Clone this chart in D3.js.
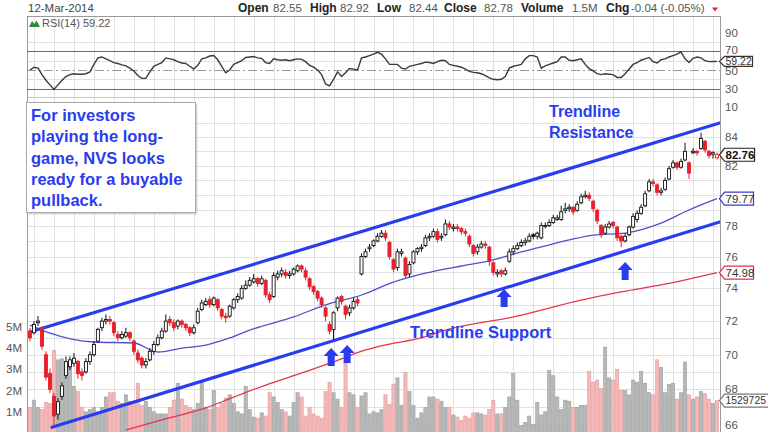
<!DOCTYPE html>
<html><head><meta charset="utf-8">
<script src="https://cdn.jsdelivr.net/npm/d3@7"></script>
<style>body{margin:0;background:#fff}svg{display:block}text{font-family:"Liberation Sans",Arial,sans-serif}</style>
</head><body><svg id="c" width="768" height="432"></svg>
<script>
// ---- data ----
const closes = [71.0,71.8,72.0,70.5,68.7,68.0,66.5,67.3,68.2,69.6,
69.7,69.8,68.9,68.8,69.6,70.0,70.6,71.5,72.0,72.1,
72.0,71.3,71.0,71.2,71.3,71.0,70.2,69.7,69.4,69.6,
70.2,70.6,71.0,71.4,72.0,71.9,71.6,72.0,71.8,71.6,
71.3,71.6,72.6,73.1,73.2,73.0,73.4,72.8,72.3,72.2,
72.9,73.3,73.5,74.0,74.2,74.5,74.6,74.3,74.6,73.6,
73.3,74.8,74.9,75.1,74.8,74.9,75.2,75.4,75.2,74.7,
74.1,73.8,73.4,73.0,72.3,71.4,72.5,73.4,73.2,72.4,
72.8,73.2,73.1,76.0,76.3,76.6,77.0,77.3,77.5,77.2,
76.0,75.2,76.3,76.3,74.8,75.5,76.3,76.5,76.6,77.2,
77.3,77.6,77.1,77.3,78.1,77.9,77.9,77.8,77.6,77.5,
76.8,76.2,76.6,76.8,76.7,75.7,75.0,75.0,74.9,75.1,
76.3,76.5,76.7,76.9,77.0,77.3,77.3,77.5,78.0,78.0,
78.2,78.5,78.5,78.9,79.1,79.2,78.9,79.4,79.9,80.0,
79.8,79.1,78.3,77.4,77.9,78.1,78.0,77.2,77.0,77.3,
77.9,78.6,78.8,79.2,80.1,80.9,80.8,80.2,80.3,81.0,
81.8,82.2,81.9,82.3,83.0,81.5,83.0,82.9,83.9,83.1,
82.7,82.9,82.76];
const opens = [71.4,71.3,71.9,71.6,70.0,68.9,67.6,66.6,67.6,68.8,
69.3,69.5,69.6,69.0,69.0,69.6,70.0,70.8,71.6,72.0,
72.1,71.9,71.2,71.0,71.1,71.3,70.8,70.1,69.8,69.4,
69.7,70.2,70.6,71.0,71.4,72.1,71.9,71.7,72.0,71.8,
71.6,71.3,71.9,72.7,73.0,73.3,73.0,73.3,72.7,72.3,
72.3,72.8,73.3,73.4,74.0,74.2,74.4,74.6,74.3,74.5,
73.6,73.5,74.7,74.9,75.0,74.8,74.9,75.1,75.4,75.1,
74.6,74.1,73.8,73.4,72.8,71.8,71.5,72.8,73.5,72.9,
72.5,72.8,73.3,74.9,76.0,76.5,76.7,77.0,77.3,77.5,
76.9,75.8,75.3,76.2,75.9,74.9,75.6,76.3,76.5,76.7,
77.2,77.3,77.6,77.2,77.4,78.1,77.8,77.9,77.8,77.6,
77.3,76.7,76.3,76.6,76.8,76.6,75.6,74.9,75.1,74.9,
75.7,76.3,76.5,76.7,76.9,77.0,77.4,77.3,77.2,78.0,
78.0,78.2,78.4,78.4,79.0,79.1,79.2,79.0,79.5,79.9,
80.0,79.6,79.0,78.0,77.5,77.9,78.2,77.9,77.3,77.0,
77.4,77.9,78.4,78.8,79.3,80.3,80.9,80.7,80.2,80.4,
81.1,81.9,82.2,81.9,82.4,82.2,82.9,83.0,83.2,83.7,
83.0,82.8,82.55];
const highs = [71.6,72.0,72.3,71.7,70.2,69.2,67.8,67.5,68.4,69.9,
69.9,70.1,69.7,69.2,69.8,70.2,70.8,71.6,72.2,72.4,
72.3,72.0,71.4,71.4,71.6,71.4,70.9,70.3,69.9,69.8,
70.4,70.8,71.2,71.6,72.4,72.3,72.1,72.1,72.1,71.9,
71.7,71.8,72.8,73.3,73.4,73.5,73.5,73.4,72.8,72.5,
73.0,73.4,73.7,74.2,74.5,74.7,74.9,74.7,74.8,74.6,
73.8,75.0,75.1,75.3,75.2,75.1,75.3,75.5,75.5,75.3,
74.7,74.2,73.9,73.5,72.9,72.0,72.6,73.5,73.6,73.0,
73.0,73.4,73.5,76.2,76.5,76.8,77.1,77.5,77.7,77.7,
77.0,75.9,76.5,76.5,76.0,75.7,76.4,76.6,76.8,77.4,
77.5,77.8,77.8,77.5,78.4,78.3,78.1,78.1,77.9,77.8,
77.4,76.8,76.8,77.0,77.0,76.7,75.7,75.2,75.2,75.3,
76.5,76.7,76.9,77.1,77.2,77.5,77.5,77.6,78.2,78.2,
78.4,78.7,78.7,79.3,79.5,79.4,79.3,79.6,80.1,80.3,
80.2,79.7,79.1,78.1,78.1,78.3,78.3,78.0,77.4,77.5,
78.0,78.8,79.0,79.4,80.3,81.1,81.1,80.8,80.5,81.2,
82.0,82.4,82.3,82.5,83.6,82.3,83.2,83.1,84.3,83.8,
83.1,83.0,82.92];
const lows = [70.8,71.2,71.7,70.3,68.5,67.8,66.0,66.3,67.4,68.6,
69.1,69.3,68.6,68.5,68.9,69.4,69.9,70.7,71.4,71.8,
71.8,71.1,70.8,70.9,71.0,70.8,70.0,69.5,69.2,69.2,
69.6,70.0,70.5,70.9,71.3,71.7,71.4,71.5,71.6,71.4,
71.1,71.2,71.8,72.6,72.9,72.8,72.9,72.6,72.1,71.9,
72.2,72.7,73.1,73.3,73.9,74.1,74.3,74.1,74.2,73.4,
73.1,73.4,74.5,74.7,74.6,74.6,74.8,75.0,75.0,74.5,
73.9,73.6,73.2,72.8,72.0,71.2,70.9,72.6,73.0,72.1,
72.3,72.7,72.9,74.8,75.9,76.3,76.6,76.9,77.2,77.0,
75.8,75.0,75.1,76.0,74.6,74.7,75.5,76.1,76.3,76.6,
77.0,77.2,76.9,77.0,77.3,77.7,77.6,77.6,77.4,77.3,
76.6,76.0,76.1,76.5,76.5,75.4,74.8,74.7,74.7,74.8,
75.6,76.1,76.4,76.6,76.7,76.9,77.1,77.1,77.1,77.8,
77.9,78.1,78.3,78.3,78.8,78.9,78.7,78.9,79.4,79.8,
79.6,78.9,78.1,77.2,77.4,77.8,77.8,77.0,76.6,76.9,
77.3,77.8,78.2,78.7,79.2,80.2,80.6,80.0,80.0,80.3,
81.0,81.8,81.7,81.8,82.3,81.1,82.8,82.7,83.1,82.9,
82.5,82.5,82.44];
const volumes = [1.2,1.55,1.2,1.1,1.45,1.4,3.9,3.45,3.5,2.8,
3.4,2.2,1.95,1.2,1.0,1.1,1.2,1.0,1.2,1.7,
1.9,1.9,1.5,1.4,1.8,1.5,1.5,2.35,1.3,1.5,
1.2,1.0,0.9,0.9,0.9,1.2,1.55,2.35,1.6,1.3,
1.2,1.1,1.4,2.4,1.2,1.1,2.0,1.2,1.4,1.65,
1.8,1.4,1.0,0.9,2.2,1.1,0.75,0.7,0.95,0.8,
1.9,1.7,1.45,1.1,1.0,0.8,1.45,1.9,1.7,0.8,
1.2,0.9,0.8,0.7,1.95,2.4,1.9,1.6,1.2,3.35,
1.9,1.8,1.2,1.75,1.9,0.9,1.0,0.95,1.1,1.8,
1.35,2.3,2.6,1.3,2.85,1.95,1.3,0.7,0.95,1.2,
1.7,1.7,1.6,1.5,1.2,1.2,0.85,0.75,0.6,0.8,
0.7,0.95,0.95,0.9,0.85,1.1,1.55,0.9,0.9,1.2,
1.7,2.8,1.55,0.35,0.5,0.8,0.4,1.45,0.85,1.0,
2.95,2.7,1.7,1.1,1.55,1.5,1.2,1.2,1.3,1.3,
2.9,2.4,2.5,2.1,4.05,2.6,2.5,3.0,2.0,2.0,
1.8,2.5,2.4,2.9,2.35,1.9,1.8,3.45,3.1,1.9,
2.3,2.35,1.6,1.9,3.35,1.8,1.6,1.7,1.95,1.85,
1.6,1.4,1.529725];
const rsi = [50,53,52,45,39,34,29,34,39,43,
45,46,45.5,45.5,46,48,56,63,64,62,
60,58,57,55.5,54.5,52,49,44,41,41,
48,54,56,58,63,62,61,59,57.5,57,
54,51,55,62,63,65,65.5,61,54,47,
50,56,58,60,63.5,64,64.5,63,62.5,58,
57,62,61,60.5,61,60,61,62,61.5,59,
55,53,50,45,35,33,40,48,43,47,
51.5,51,50,63,64,65.5,67,69,67,62,
56,56,56,52,51,54,55,56,57,58.5,
58,57,59,60.5,60,56,55,54,53,51,
48.5,47.5,47,46,44,41.5,40,39.5,40,43,
52,54,55,56,62,65.5,65.5,64,52,54.5,
56,57.5,59,64,64,60.5,60,61,62,56,
51.5,49,46,45,46,45.5,45,42,42,46,
51,56,58,60.5,62,63.5,59,57.5,61,62,
64,65.5,67,69.5,62,58,62.5,64,63,60,
59,59.2,59.22];
const ma50Bars = [0,5,16,26,32,38,44,50,55,66,74,83,91,99,108,115,123,129,135,141,149,158,165,172];
const ma50Vals = [71.76,71.28,70.75,70.69,70.16,70.39,70.57,70.99,71.46,72.25,72.98,73.59,74.39,74.95,75.40,75.72,76.29,76.68,77.06,77.38,77.51,78.16,79.02,79.77];
const ma200Bars = [24,33,44,51,59,68,76,84,90,98,104,121,138,148,158,172];
const ma200Vals = [65.72,66.28,66.95,67.56,68.24,68.94,69.58,70.28,70.63,70.99,71.46,72.25,73.28,73.78,74.21,74.98];
const resistanceLine = {bars:[0,172.7], prices:[71.34,84.99]};
const supportLine = {bars:[5.5,172.7], prices:[65.88,78.23]};
const arrowBars = [75.4,79.4,118.7,149];
const arrowTips = [70.39,70.57,73.96,75.65];
const priceTicks = [66,68,70,72,74,76,78,82,84];   // 80 is hidden behind the 79.77 tag
const priceGrid = [65,66,67,68,69,70,71,72,73,74,75,76,77,78,79,80,81,82,83,84,85];
const rsiTicks = [10,30,50,70,90];
const volTicks = [1,2,3,4,5];
const volTickLabels = ["1M","2M","3M","4M","5M"];
const headerDate = "12-Mar-2014";
const headerItems = [["Open","82.55"],["High","82.92"],["Low","82.44"],["Close","82.78"],["Volume","1.5M"],["Chg","-0.04 (-0.05%)"]];
const noteLines = ["For investors","playing the long-","game, NVS looks","ready for a buyable","pullback."];
const lastClose = 82.76, lastMA50 = 79.77, lastMA200 = 74.98, lastVolume = 1529725, lastRsi = 59.22;

// ---- layout ----
const svg = d3.select("#c");
const L = 27, R = 720, mainTop = 98, mainBot = 432, rsiTop = 16, rsiBot = 97;
const N = closes.length;
const x = d3.scaleLinear().domain([0, N-1]).range([30, 717]);
const y = d3.scaleLog().domain([66, 84]).range([425, 137]);
const yv = d3.scaleLinear().domain([0, 5]).range([433, 327]);
const yr = d3.scaleLinear().domain([0, 100]).range([116.5, 23.5]);

const BLUE = "#2a3cf0", RED = "#e8202c";
const upDay = i => i === 0 ? closes[i] >= opens[i] : closes[i] >= closes[i-1];

svg.append("defs").html(`<clipPath id="mc"><rect x="${L}" y="${mainTop}" width="${R-L}" height="${mainBot-mainTop}"/></clipPath>
<clipPath id="rc"><rect x="${L}" y="${rsiTop}" width="${R-L}" height="${rsiBot-rsiTop}"/></clipPath>`);

// grids
const grid = svg.append("g").attr("stroke", "#e0e0e0").attr("stroke-width", 1);
const vBars = d3.range(1, N, 5);
vBars.forEach(b => {
  const xx = Math.round(x(b)) + 0.5;
  grid.append("line").attr("x1", xx).attr("x2", xx).attr("y1", rsiTop).attr("y2", rsiBot);
  grid.append("line").attr("x1", xx).attr("x2", xx).attr("y1", mainTop).attr("y2", mainBot);
});
priceGrid.forEach(p => {
  const yy = Math.round(y(p)) + 0.5;
  if (yy > mainTop && yy < mainBot) grid.append("line").attr("x1", L).attr("x2", R).attr("y1", yy).attr("y2", yy);
});
[20,40,60,80].forEach(r => {
  const yy = Math.round(yr(r)) + 0.5;
  if (yy > rsiTop && yy < rsiBot) grid.append("line").attr("x1", L).attr("x2", R).attr("y1", yy).attr("y2", yy);
});

// panel frames
const frame = svg.append("g").attr("fill", "none").attr("stroke", "#9a9a9a");
frame.append("line").attr("x1", L).attr("x2", R).attr("y1", rsiTop + 0.5).attr("y2", rsiTop + 0.5);
frame.append("line").attr("x1", L).attr("x2", R).attr("y1", rsiBot + 0.5).attr("y2", rsiBot + 0.5).attr("stroke", "#c8c8c8");
frame.append("line").attr("x1", L + 0.5).attr("x2", L + 0.5).attr("y1", rsiTop).attr("y2", mainBot);
frame.append("line").attr("x1", R + 0.5).attr("x2", R + 0.5).attr("y1", rsiTop).attr("y2", mainBot);

// RSI panel
const rg = svg.append("g").attr("clip-path", "url(#rc)");
[70,30].forEach(r => rg.append("line").attr("x1", L).attr("x2", R)
  .attr("y1", Math.round(yr(r)) + 0.5).attr("y2", Math.round(yr(r)) + 0.5).attr("stroke", "#6a6a6a"));
rg.append("line").attr("x1", L).attr("x2", R).attr("y1", Math.round(yr(50)) + 0.5).attr("y2", Math.round(yr(50)) + 0.5)
  .attr("stroke", "#9a9a9a").attr("stroke-width", 1.2).attr("stroke-dasharray", "9,3,2,3");
rg.append("path").datum(rsi).attr("fill", "none").attr("stroke", "#3a3a3a").attr("stroke-width", 1.4)
  .attr("d", d3.line().x((d, i) => x(i)).y(d => yr(d)));

// main panel content
const mg = svg.append("g").attr("clip-path", "url(#mc)");
mg.append("g").selectAll("rect").data(volumes).join("rect")
  .attr("x", (d, i) => x(i) - 1.6).attr("width", 3.2)
  .attr("y", d => yv(d)).attr("height", d => yv(0) - yv(d))
  .attr("fill", (d, i) => upDay(i) ? "#b8b8b8" : "#f3b9b9")
  .attr("stroke", (d, i) => upDay(i) ? "#9c9c9c" : "#e49a9a").attr("stroke-width", 0.6);
const maLine = (bars) => d3.line().curve(d3.curveMonotoneX).x((d, i) => x(bars[i])).y(d => y(d));
mg.append("path").datum(ma200Vals).attr("fill", "none").attr("stroke", "#e2364e").attr("stroke-width", 1.3).attr("d", maLine(ma200Bars));
mg.append("path").datum(ma50Vals).attr("fill", "none").attr("stroke", "#5050c8").attr("stroke-width", 1.3).attr("d", maLine(ma50Bars));
[resistanceLine, supportLine].forEach(t => {
  mg.append("line").attr("x1", x(t.bars[0])).attr("y1", y(t.prices[0]))
    .attr("x2", x(t.bars[1])).attr("y2", y(t.prices[1]))
    .attr("stroke", BLUE).attr("stroke-width", 3.2).attr("stroke-linecap", "round");
});
const cg = mg.append("g");
closes.forEach((c, i) => {
  const col = upDay(i) ? "#111" : RED;
  const o = opens[i], xx = x(i);
  cg.append("line").attr("x1", xx).attr("x2", xx).attr("y1", y(highs[i])).attr("y2", y(lows[i]))
    .attr("stroke", col).attr("stroke-width", 1);
  const top = y(Math.max(o, c)), bot = y(Math.min(o, c));
  cg.append("rect").attr("x", xx - 1.5).attr("width", 3).attr("y", top).attr("height", Math.max(1, bot - top))
    .attr("fill", c < o ? col : "#fff").attr("stroke", col).attr("stroke-width", 0.9);
});
arrowBars.forEach((b, i) => {
  const ax = x(b), ay = y(arrowTips[i]);
  mg.append("path").attr("fill", BLUE)
    .attr("d", `M${ax},${ay} L${ax+7.5},${ay+8} L${ax+3.5},${ay+8} L${ax+3.5},${ay+18} L${ax-3.5},${ay+18} L${ax-3.5},${ay+8} L${ax-7.5},${ay+8} Z`);
});

// text annotations
const tr = svg.append("g").attr("fill", BLUE).attr("font-weight", "bold");
tr.append("text").attr("x", 549).attr("y", 117).attr("font-size", 16).text("Trendline");
tr.append("text").attr("x", 549).attr("y", 138).attr("font-size", 16).text("Resistance");
tr.append("text").attr("x", 410).attr("y", 338).attr("font-size", 16.5).text("Trendline Support");

// note box
svg.append("rect").attr("x", 28.5).attr("y", 104.5).attr("width", 169).attr("height", 110).attr("fill", "#bdbdbd").attr("opacity", 0.6);
svg.append("rect").attr("x", 26.5).attr("y", 102.5).attr("width", 169).attr("height", 110).attr("fill", "#fff").attr("stroke", "#a8a8a8");
svg.append("g").selectAll("text").data(noteLines).join("text")
  .attr("x", 31).attr("y", (d, i) => 121 + i * 21.3).attr("fill", BLUE).attr("font-weight", "bold").attr("font-size", 16.5).text(d => d);

// axes labels
const ax = svg.append("g").attr("font-size", 11.5).attr("fill", "#555");
priceTicks.forEach(p => ax.append("text").attr("x", 725).attr("y", y(p) + 4).text(p));
rsiTicks.forEach(r => ax.append("text").attr("x", 725).attr("y", yr(r) + (r === 50 ? 5 : r === 70 ? 3 : 4)).text(r));
volTicks.forEach((v, i) => ax.append("text").attr("x", 22).attr("y", yv(v) + 4).attr("text-anchor", "end").text(volTickLabels[i]));

// value tags
function tag(cy, txt, stroke, color, bold, w, fs, hh) {
  const g = svg.append("g");
  g.append("path").attr("d", `M719.5,${cy} L724.5,${cy-hh} L${724.5+w},${cy-hh} L${724.5+w},${cy+hh} L724.5,${cy+hh} Z`)
    .attr("fill", "#fff").attr("stroke", stroke).attr("stroke-width", 1.2);
  g.append("text").attr("x", 725.5).attr("y", cy + fs * 0.36).attr("font-size", fs).attr("fill", color)
    .attr("font-weight", bold ? "bold" : "normal").text(txt);
}
tag(y(lastClose), lastClose.toFixed(2), "#222", "#111", true, 30, 11.5, 6.5);
tag(y(lastMA50), lastMA50.toFixed(2), "#3a3acc", "#333", false, 29, 11.5, 6.5);
tag(y(lastMA200), lastMA200.toFixed(2), "#e0304a", "#333", false, 29, 11.5, 6.5);
tag(yv(lastVolume / 1e6), String(lastVolume), "#777", "#333", false, 50, 10.4, 6.5);
tag(yr(lastRsi), lastRsi.toFixed(2), "#333", "#333", false, 28, 10.5, 5);

// header
svg.append("text").attr("x", 28).attr("y", 12).attr("font-size", 11.5).attr("fill", "#444").text(headerDate);
const hx = [238, 310, 377, 444, 521, 606];
const vx = [273, 340, 409, 484, 572, 631];
headerItems.forEach((h, i) => {
  svg.append("text").attr("x", hx[i]).attr("y", 12).attr("font-size", 12).attr("font-weight", "bold").attr("fill", "#222").text(h[0]);
  svg.append("text").attr("x", vx[i]).attr("y", 12).attr("font-size", 11.5).attr("fill", "#555").text(h[1]);
});
svg.append("path").attr("d", "M712,7.5 L718,7.5 L715,11.5 Z").attr("fill", RED);
svg.append("path").attr("d", "M29,27 L32,21 L34.5,24 L36.5,20.5 L40,27 Z").attr("fill", "#2e8b3a");
svg.append("text").attr("x", 42).attr("y", 27).attr("font-family", "DejaVu Sans Mono, monospace").attr("font-size", 11)
  .attr("fill", "#555").text("RSI(14) " + lastRsi.toFixed(2));
</script></body></html>
